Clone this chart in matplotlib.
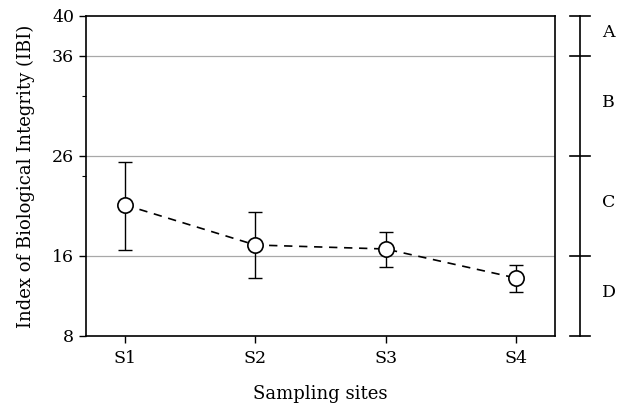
import matplotlib
matplotlib.use("Agg")
import matplotlib.pyplot as plt
import numpy as np

sites = ["S1", "S2", "S3", "S4"]
ibi_mean = [21.1, 17.1, 16.7, 13.8]
ibi_upper = [25.4, 20.4, 18.4, 15.1]
ibi_lower = [16.6, 13.8, 14.9, 12.4]
y_ticks = [8, 16, 26, 36, 40]
y_minor = [24, 32]
grid_levels = [16, 26, 36]
class_bounds = [40, 36, 26, 16, 8]
class_labels = ["A", "B", "C", "D"]

plt.rcParams['font.family'] = ['DejaVu Serif']

fig = plt.figure(figsize=(6.21, 4.05), dpi=100)
ax = fig.add_axes([0.1385, 0.1704, 0.7552, 0.7901])

x = np.arange(1, len(sites) + 1)
mean = np.array(ibi_mean)
yerr = np.array([mean - np.array(ibi_lower), np.array(ibi_upper) - mean])

for g in grid_levels:
    ax.axhline(g, color="#a8a8a8", lw=0.9, zorder=1)

ax.errorbar(x, mean, yerr=yerr, fmt="none", ecolor="black", elinewidth=1.0,
            capsize=5, capthick=1.0, zorder=2)
ax.plot(x, mean, linestyle=(0, (5, 4)), color="black", lw=1.2, zorder=3)
ax.plot(x, mean, linestyle="none", marker="o", markersize=11,
        markerfacecolor="white", markeredgecolor="black", markeredgewidth=1.2, zorder=4)

ax.set_xlim(0.7, 4.3)
ax.set_ylim(8, 40)
ax.set_xticks(x)
ax.set_xticklabels(sites, fontsize=12.5)
ax.set_yticks(y_ticks)
ax.set_yticklabels([str(t) for t in y_ticks], fontsize=12.5)
ax.set_yticks(y_minor, minor=True)
ax.tick_params(axis="both", direction="out", length=5, width=1.0)
ax.tick_params(axis="x", pad=5)
ax.tick_params(axis="y", which="minor", direction="out", length=3, width=0.8)
for s in ax.spines.values():
    s.set_linewidth(1.2)

ax.set_xlabel("Sampling sites", fontsize=13, labelpad=13)
ax.set_ylabel("Index of Biological Integrity (IBI)", fontsize=13, labelpad=12)

# Class bracket on the right
tr = ax.get_yaxis_transform()
bx = 1.053
ax.plot([bx, bx], [class_bounds[0], class_bounds[-1]], transform=tr,
        color="black", lw=1.2, clip_on=False)
for b in class_bounds:
    ax.plot([bx - 0.022, bx + 0.022], [b, b], transform=tr, color="black",
            lw=1.2, clip_on=False)
for i, lab in enumerate(class_labels):
    mid = (class_bounds[i] + class_bounds[i + 1]) / 2
    ax.text(1.1, mid + 0.3, lab, transform=tr, fontsize=12.5, ha="left", va="center")

fig.savefig("out.png", dpi=100)
